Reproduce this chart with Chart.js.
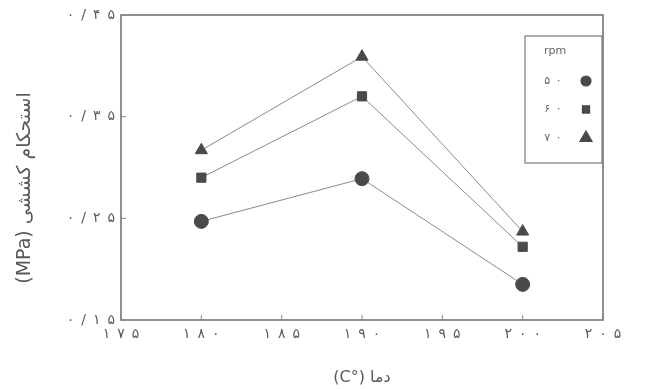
<!DOCTYPE html>
<html><head><meta charset="utf-8">
<script src="https://cdn.jsdelivr.net/npm/chart.js@4"></script>
<style>html,body{margin:0;padding:0;background:#fff}#wrap{width:648px;height:389px;position:relative}</style>
</head><body><div id="wrap"><canvas id="c" width="648" height="389"></canvas></div>
<script>
const temperatures = [180, 190, 200];
const rpm50 = [0.247, 0.289, 0.185];
const rpm60 = [0.290, 0.370, 0.222];
const rpm70 = [0.317, 0.409, 0.237];
const seriesLabels = ['۵۰', '۶۰', '۷۰'];
const seriesStyles = ['circle', 'rect', 'triangle'];
const xTickValues = [175, 180, 185, 190, 195, 200, 205];
const xTickLabels = ['۱۷۵', '۱۸۰', '۱۸۵', '۱۹۰', '۱۹۵', '۲۰۰', '۲۰۵'];
const yTickValues = [0.15, 0.25, 0.35, 0.45];
const yTickLabels = ['۰/۱۵', '۰/۲۵', '۰/۳۵', '۰/۴۵'];
const legendTitle = 'rpm';
const xTitle = 'دما (°C)';
const yTitle = 'استحکام کششی (MPa)';

const INK = '#5a5a5a';
const FONT = 'DejaVu Sans';
const spaced = s => s.split('').join('\u2002');

function mk(vals, i, r) {
  return {
    label: seriesLabels[i],
    data: temperatures.map((t, k) => ({x: t, y: vals[k]})),
    borderColor: '#8a8a8a', borderWidth: 1,
    pointStyle: seriesStyles[i], pointRadius: r,
    pointBackgroundColor: '#4a4a4a', pointBorderColor: '#4a4a4a', pointBorderWidth: 1,
    tension: 0, fill: false
  };
}

const decor = {
  id: 'decor',
  afterDraw(chart) {
    const ctx = chart.ctx, ca = chart.chartArea;
    const xs = chart.scales.x, ys = chart.scales.y;
    ctx.save();
    // frame
    ctx.strokeStyle = '#6a6a6a'; ctx.lineWidth = 1.5;
    ctx.strokeRect(ca.left, ca.top, ca.right - ca.left, ca.bottom - ca.top);
    // inward ticks
    ctx.lineWidth = 1; ctx.strokeStyle = '#888';
    xs.ticks.forEach(t => {
      const p = xs.getPixelForValue(t.value);
      ctx.beginPath(); ctx.moveTo(p, ca.bottom); ctx.lineTo(p, ca.bottom - 5); ctx.stroke();
    });
    ys.ticks.forEach(t => {
      const p = ys.getPixelForValue(t.value);
      ctx.beginPath(); ctx.moveTo(ca.left, p); ctx.lineTo(ca.left + 5, p); ctx.stroke();
    });
    // axis titles
    ctx.fillStyle = INK; ctx.direction = 'rtl'; ctx.textAlign = 'center'; ctx.textBaseline = 'middle';
    ctx.font = '16px "' + FONT + '"';
    ctx.fillText(xTitle, (ca.left + ca.right) / 2, 378);
    ctx.save();
    ctx.translate(25, 188); ctx.rotate(-Math.PI / 2);
    ctx.font = '19px "' + FONT + '"';
    ctx.fillText(yTitle, 0, 0);
    ctx.restore();
    // legend
    const bx = ca.right - 78, by = ca.top + 21, bw = 77, bh = 127;
    ctx.strokeStyle = '#7a7a7a'; ctx.lineWidth = 1.2;
    ctx.strokeRect(bx, by, bw, bh);
    ctx.direction = 'ltr';
    ctx.font = '11px "' + FONT + '"';
    ctx.fillStyle = '#666';
    ctx.fillText(legendTitle, bx + 30, by + 15);
    chart.data.datasets.forEach((ds, i) => {
      const y = by + 45 + i * 28.5;
      ctx.fillStyle = '#666';
      ctx.fillText(spaced(ds.label), bx + 28, y);
      ctx.fillStyle = '#4a4a4a'; ctx.strokeStyle = '#4a4a4a';
      Chart.helpers.drawPoint(ctx, {pointStyle: ds.pointStyle, radius: i === 2 ? 7 : 5, rotation: 0, borderWidth: 1}, bx + 61, y);
    });
    ctx.restore();
  }
};

new Chart(document.getElementById('c'), {
  type: 'line',
  data: { datasets: [mk(rpm50, 0, 7), mk(rpm60, 1, 6.5), mk(rpm70, 2, 7)] },
  options: {
    responsive: false, animation: false, devicePixelRatio: 1,
    layout: { padding: { top: 15, right: 45, left: 0, bottom: 0 } },
    plugins: { legend: { display: false }, tooltip: { enabled: false } },
    scales: {
      x: {
        type: 'linear', min: 175, max: 205,
        afterBuildTicks: s => { s.ticks = xTickValues.map(v => ({value: v})); },
        afterFit: s => { s.height = 69; },
        grid: { display: false, drawTicks: false },
        border: { display: false },
        ticks: { padding: 6, color: INK, font: { family: FONT, size: 14 }, maxRotation: 0, autoSkip: false,
                 callback: (v, i) => spaced(xTickLabels[i]) }
      },
      y: {
        type: 'linear', min: 0.15, max: 0.45,
        afterBuildTicks: s => { s.ticks = yTickValues.map(v => ({value: v})); },
        afterFit: s => { s.width = 121; },
        grid: { display: false, drawTicks: false },
        border: { display: false },
        ticks: { padding: 6, color: INK, font: { family: FONT, size: 14 }, autoSkip: false,
                 callback: (v, i) => spaced(yTickLabels[i]) }
      }
    }
  },
  plugins: [decor]
});
</script></body></html>
